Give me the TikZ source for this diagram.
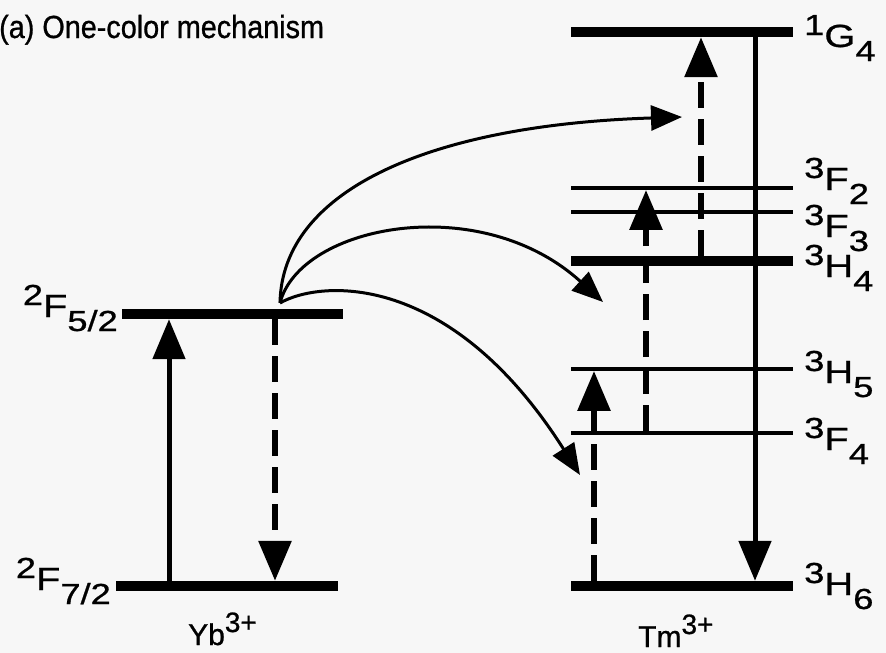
\documentclass[tikz,border=0pt]{standalone}
\usepackage{fontspec}
\setmainfont[FakeBold=0.8]{Liberation Sans}
\newfontfamily\widefont[FakeStretch=1.25, FakeBold=0.8]{Liberation Sans}
\newfontfamily\narrowfont[FakeStretch=0.9, FakeBold=0.8]{Liberation Sans}
\usepackage{tikz}
\usetikzlibrary{arrows.meta, calc}
\definecolor{scanbg}{HTML}{F7F7F7}

% term symbol: superscript, letter, subscript
\newcommand{\term}[3]{%
  {\widefont\fontsize{29}{29}\selectfont\raisebox{12pt}{#1}}%
  {\widefont\fontsize{32}{32}\selectfont #2}%
  {\widefont\fontsize{29}{29}\selectfont\raisebox{-14pt}{#3}}}

\begin{document}
\begin{tikzpicture}[
    x=1pt, y=-1pt,
    font=\fontsize{30}{30}\selectfont,
    lvl/.style={fill=black, inner sep=0pt, minimum width=222pt},
    pump/.style={line width=5pt, -{Triangle[length=40pt, width=32pt]}},
    relax/.style={line width=6pt, dash pattern=on 26pt off 11pt, -{Triangle[length=40pt, width=32pt]}},
    transfer/.style={line width=3pt, -{Triangle[length=31pt, width=25pt]}},
    lbl/.style={inner sep=0pt, anchor=base west},
]

% Page
\fill[scanbg] (0,0) rectangle (886,653);
\useasboundingbox (0,0) rectangle (886,653);

% Title
\node[lbl, font=\narrowfont\fontsize{32}{32}\selectfont] (title) at (-1,38) {(a) One-color mechanism};

% Yb3+ levels
\node[lvl, minimum height=10pt, minimum width=221pt] (F52) at (232.5,314) {};
\node[lvl, minimum height=10pt] (F72) at (227,586) {};
\node[lbl, anchor=base east] (lF52) at (118,317) {\term{2}{F}{5/2}};
\node[lbl, anchor=base east] (lF72) at (111,590) {\term{2}{F}{7/2}};
\node[lbl] (yb) at (188,645) {Yb\raisebox{13pt}{\fontsize{28}{28}\selectfont 3+}};

% Tm3+ levels
\foreach \name/\y/\h in {G4/32/10, F2/188/3.5, F3/212/3.5, H4/261/10, H5/369/3.5, F4/433/3.5, H6/586/10}
    \node[lvl, minimum height=\h pt] (\name) at (682,\y) {};

% Tm3+ labels
\foreach \name/\jup/\jsym/\jsub/\y in {G4/1/G/4/47, F2/3/F/2/190, F3/3/F/3/237, H4/3/H/4/277, H5/3/H/5/383, F4/3/F/4/450, H6/3/H/6/595}
    \node[lbl] (l\name) at (804,\y) {\term{\jup}{\jsym}{\jsub}};
\node[lbl] (tm) at (638,647) {Tm\raisebox{13pt}{\fontsize{28}{28}\selectfont 3+}};

% Columns of the vertical arrows
\coordinate (xyb) at (169,0);
\coordinate (xybr) at (275,0);
\coordinate (xa) at (594,0);
\coordinate (xb) at (646,0);
\coordinate (xc) at (701,0);
\coordinate (xd) at (755,0);

% Yb3+ absorption and relaxation
\draw[pump] (xyb |- F72.north) -- (xyb |- F52.south);
\draw[relax] (xybr |- F52.south) -- (xybr |- F72.north);

% Tm3+ steps
\draw[relax] (xa |- H6.north) -- (xa |- H5.south);
\draw[relax] (xb |- F4.north) -- (xb |- F2.south);
\draw[relax] (xc |- H4.north) -- (xc |- G4.south);
\draw[pump] (xd |- G4.south) -- (xd |- H6.north);

% Energy transfer
\coordinate (src) at (280,303);
\coordinate (toG4) at (682,117);
\coordinate (toF2) at (603,302);
\coordinate (toH5) at (580,475);
\draw[transfer] (src) .. controls (282,190) and (430,125) .. (toG4);
\draw[transfer] (src) .. controls (300,225) and (480,190) .. (toF2);
\draw[transfer] (src) .. controls (320,280) and (450,270) .. (toH5);

\end{tikzpicture}
\end{document}
